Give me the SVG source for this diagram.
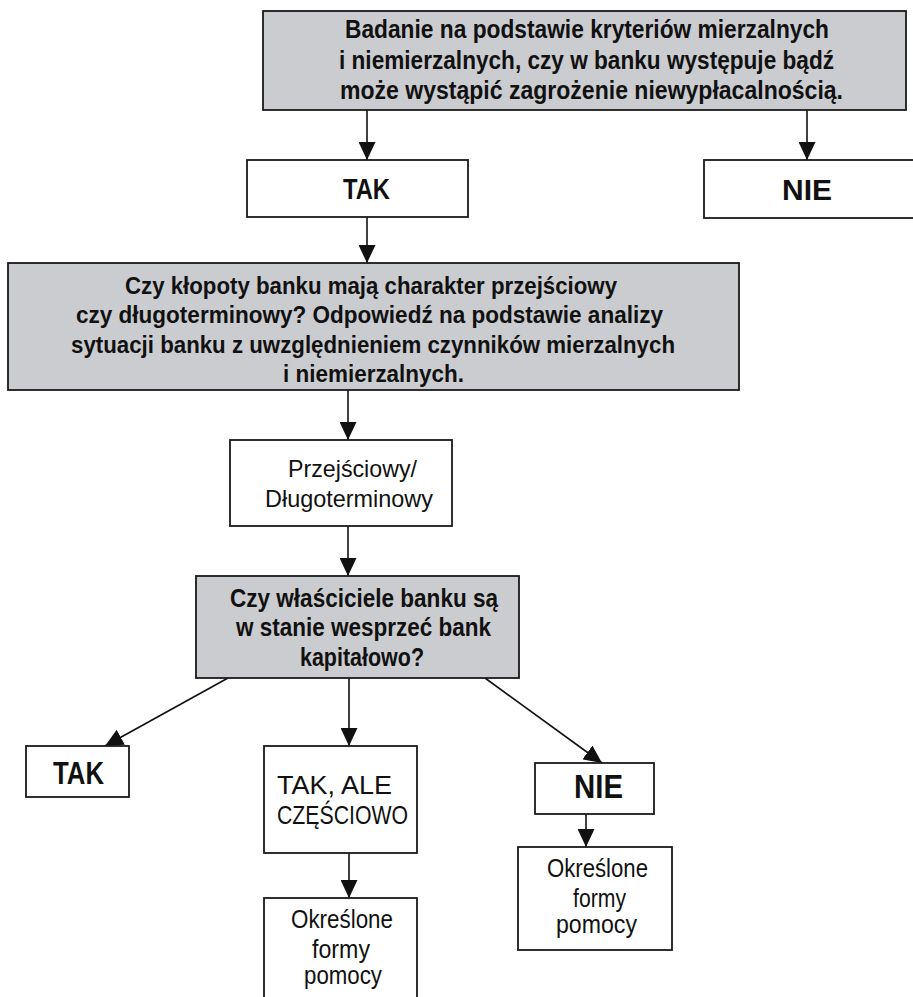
<svg xmlns="http://www.w3.org/2000/svg" width="913" height="997" viewBox="0 0 913 997">
<style>
.box{stroke:#1a1a1a;stroke-width:1.8;}
.g{fill:#cbcccf;}
.w{fill:#ffffff;}
text{font-family:"Liberation Sans Narrow","Liberation Sans",Arial,sans-serif;fill:#111;}
.b{font-weight:bold;}
.con{stroke:#111;stroke-width:1.6;fill:none;marker-end:url(#ah);}
</style>
<defs>
<marker id="ah" markerUnits="userSpaceOnUse" markerWidth="18" markerHeight="17" refX="18" refY="8.5" orient="auto">
<path d="M0,0 L18,8.5 L0,17 z" fill="#111"/>
</marker>
</defs>
<rect width="913" height="997" fill="#ffffff"/>
<g id="connectors">
<line class="con" x1="367" y1="110" x2="367" y2="160"/>
<line class="con" x1="807" y1="110" x2="807" y2="160"/>
<line class="con" x1="367" y1="217" x2="367" y2="263"/>
<line class="con" x1="348" y1="390" x2="348" y2="440"/>
<line class="con" x1="348" y1="526" x2="348" y2="576"/>
<line class="con" x1="228" y1="678" x2="105" y2="746"/>
<line class="con" x1="349" y1="678" x2="349" y2="746"/>
<line class="con" x1="485" y1="678" x2="602" y2="763"/>
<line class="con" x1="349" y1="848" x2="349" y2="898"/>
<line class="con" x1="586" y1="814" x2="586" y2="847"/>
</g>
<g id="n1">
<rect class="box g" x="263" y="11" width="643" height="99"/>
<text class="b" x="345" y="38" font-size="25" textLength="484" lengthAdjust="spacingAndGlyphs">Badanie na podstawie kryteriów mierzalnych</text>
<text class="b" x="339" y="69" font-size="25" textLength="495" lengthAdjust="spacingAndGlyphs">i niemierzalnych, czy w banku występuje bądź</text>
<text class="b" x="340" y="99" font-size="25" textLength="503" lengthAdjust="spacingAndGlyphs">może wystąpić zagrożenie niewypłacalnością.</text>
</g>
<g id="n2">
<rect class="box w" x="247" y="160" width="221" height="57"/>
<text class="b" x="343" y="199" font-size="29" textLength="47" lengthAdjust="spacingAndGlyphs">TAK</text>
</g>
<g id="n3">
<rect class="box w" x="704" y="160" width="210" height="58"/>
<text class="b" x="782" y="200" font-size="29" textLength="50" lengthAdjust="spacingAndGlyphs">NIE</text>
</g>
<g id="n4">
<rect class="box g" x="8" y="263" width="731" height="127"/>
<text class="b" x="125" y="294" font-size="24" textLength="492" lengthAdjust="spacingAndGlyphs">Czy kłopoty banku mają charakter przejściowy</text>
<text class="b" x="76" y="323" font-size="24" textLength="587" lengthAdjust="spacingAndGlyphs">czy długoterminowy? Odpowiedź na podstawie analizy</text>
<text class="b" x="71" y="353" font-size="24" textLength="604" lengthAdjust="spacingAndGlyphs">sytuacji banku z uwzględnieniem czynników mierzalnych</text>
<text class="b" x="283" y="382" font-size="24" textLength="181" lengthAdjust="spacingAndGlyphs">i niemierzalnych.</text>
</g>
<g id="n5">
<rect class="box w" x="230" y="440" width="222" height="86"/>
<text x="288" y="477" font-size="24" textLength="129" lengthAdjust="spacingAndGlyphs">Przejściowy/</text>
<text x="265" y="507" font-size="24" textLength="168" lengthAdjust="spacingAndGlyphs">Długoterminowy</text>
</g>
<g id="n6">
<rect class="box g" x="196" y="576" width="323" height="102"/>
<text class="b" x="230" y="607" font-size="26" textLength="268" lengthAdjust="spacingAndGlyphs">Czy właściciele banku są</text>
<text class="b" x="236" y="636" font-size="26" textLength="255" lengthAdjust="spacingAndGlyphs">w stanie wesprzeć bank</text>
<text class="b" x="300" y="666" font-size="26" textLength="124" lengthAdjust="spacingAndGlyphs">kapitałowo?</text>
</g>
<g id="n7">
<rect class="box w" x="26" y="746" width="103" height="51"/>
<text class="b" x="53" y="784" font-size="31" textLength="51" lengthAdjust="spacingAndGlyphs">TAK</text>
</g>
<g id="n8">
<rect class="box w" x="264" y="746" width="153" height="107"/>
<text x="277" y="794" font-size="26" textLength="115" lengthAdjust="spacingAndGlyphs">TAK, ALE</text>
<text x="277" y="824" font-size="26" textLength="131" lengthAdjust="spacingAndGlyphs">CZĘŚCIOWO</text>
</g>
<g id="n9">
<rect class="box w" x="535" y="763" width="119" height="51"/>
<text class="b" x="574" y="798" font-size="34" textLength="49" lengthAdjust="spacingAndGlyphs">NIE</text>
</g>
<g id="n10">
<rect class="box w" x="518" y="847" width="154" height="103"/>
<text x="547" y="877" font-size="25" textLength="101" lengthAdjust="spacingAndGlyphs">Określone</text>
<text x="573" y="907" font-size="25" textLength="53" lengthAdjust="spacingAndGlyphs">formy</text>
<text x="556" y="933" font-size="25" textLength="81" lengthAdjust="spacingAndGlyphs">pomocy</text>
</g>
<g id="n11">
<rect class="box w" x="264" y="898" width="153" height="120"/>
<text x="291" y="928" font-size="25" textLength="102" lengthAdjust="spacingAndGlyphs">Określone</text>
<text x="312" y="958" font-size="25" textLength="58" lengthAdjust="spacingAndGlyphs">formy</text>
<text x="304" y="984" font-size="25" textLength="78" lengthAdjust="spacingAndGlyphs">pomocy</text>
</g>
</svg>
